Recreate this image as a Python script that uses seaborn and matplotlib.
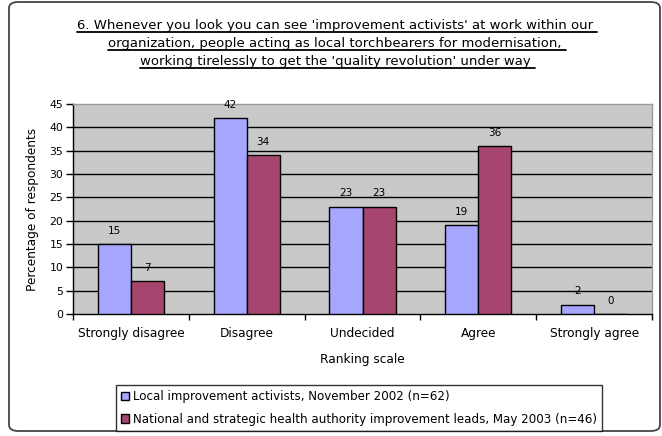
import matplotlib
matplotlib.use("Agg")
import matplotlib.pyplot as plt
from matplotlib.patches import FancyBboxPatch, Patch
from matplotlib.lines import Line2D
import seaborn as sns
import pandas as pd

categories = ["Strongly disagree", "Disagree", "Undecided", "Agree", "Strongly agree"]
series_names = ["Local improvement activists, November 2002 (n=62)",
                "National and strategic health authority improvement leads, May 2003 (n=46)"]
local_vals = [15, 42, 23, 19, 2]
national_vals = [7, 34, 23, 36, 0]
yticks = [0, 5, 10, 15, 20, 25, 30, 35, 40, 45]
title_lines = ["6. Whenever you look you can see 'improvement activists' at work within our ",
               "organization, people acting as local torchbearers for modernisation, ",
               "working tirelessly to get the 'quality revolution' under way "]
colors = ["#A6A6FF", "#A6466F"]

sns.set_theme(style="white")
plt.rcParams["font.family"] = ["DejaVu Sans"]
plt.rcParams["text.color"] = "black"
plt.rcParams["axes.labelcolor"] = "black"
plt.rcParams["xtick.color"] = "black"
plt.rcParams["ytick.color"] = "black"

df = pd.DataFrame({
    "cat": categories * 2,
    "val": local_vals + national_vals,
    "series": [series_names[0]] * 5 + [series_names[1]] * 5,
})

W, H = 662, 436
fig = plt.figure(figsize=(W / 100, H / 100), dpi=100)
fig.patch.set_facecolor("white")

# outer rounded border
border = FancyBboxPatch((9 / W, 5 / H), (660 - 9) / W, (434 - 5) / H,
                        boxstyle="round,pad=0,rounding_size=0.014",
                        transform=fig.transFigure, facecolor="none",
                        edgecolor="#444444", linewidth=1.3)
fig.patches.append(border)

ax = fig.add_axes([73 / W, 1 - 314 / H, (652 - 73) / W, (314 - 104) / H])
ax.set_facecolor("#C9C9C9")

sns.barplot(data=df, x="cat", y="val", hue="series", palette=colors,
            width=0.57, edgecolor="black", linewidth=1.0, ax=ax,
            legend=False, zorder=3, saturation=1)

for c in ax.containers:
    ax.bar_label(c, labels=[f"{v:g}" for v in c.datavalues], padding=6,
                 fontsize=7.5, zorder=4)

ax.set_ylim(0, 45)
ax.set_xlim(-0.5, 4.5)
ax.set_yticks(yticks)
for y in yticks[1:-1]:
    ax.axhline(y, color="black", linewidth=1.0, zorder=1)

for s in ["top", "right"]:
    ax.spines[s].set_color("#9a9a9a")
    ax.spines[s].set_linewidth(1.0)
for s in ["left", "bottom"]:
    ax.spines[s].set_color("black")
    ax.spines[s].set_linewidth(1.0)

ax.tick_params(axis="y", which="major", left=True, length=5, width=1,
               color="black", pad=2, labelsize=7.8)
ax.tick_params(axis="x", which="major", bottom=False, length=0, pad=9,
               labelsize=8.7)
ax.set_xticks([-0.5, 0.5, 1.5, 2.5, 3.5, 4.5], minor=True)
ax.tick_params(axis="x", which="minor", bottom=True, length=4, width=1,
               color="black", direction="out")
ax.set_xticklabels(categories)

ax.set_xlabel("Ranking scale", fontsize=8.7)
ax.set_ylabel("Percentage of respondents", fontsize=8.7)
ax.xaxis.set_label_coords(0.5, -(353 - 314) / 210)
ax.yaxis.set_label_coords(-(73 - 39) / 579, 0.5)

# title with underlines
title_y = [25, 43, 61]
texts = []
for line, yy in zip(title_lines, title_y):
    t = fig.text(337 / W, 1 - yy / H, line, ha="center", va="center",
                 fontsize=9.5)
    texts.append(t)

fig.canvas.draw()
renderer = fig.canvas.get_renderer()
inv = fig.transFigure.inverted()
for t in texts:
    bb = t.get_window_extent(renderer=renderer)
    (x0, y0), (x1, y1) = inv.transform([[bb.x0, bb.y0], [bb.x1, bb.y1]])
    yl = y0 - 0.5 / H
    fig.lines.append(Line2D([x0, x1], [yl, yl], transform=fig.transFigure,
                            color="black", linewidth=1.3))

handles = [Patch(facecolor=colors[i], edgecolor="black", linewidth=1.0,
                 label=series_names[i]) for i in range(2)]
leg = fig.legend(handles=handles, loc="center", bbox_to_anchor=(359 / W, 1 - 408 / H),
                 frameon=True, fancybox=False, fontsize=8.6, handlelength=0.7,
                 handleheight=0.7, handletextpad=0.3, borderpad=0.4,
                 labelspacing=0.8, borderaxespad=0)
leg.get_frame().set_edgecolor("black")
leg.get_frame().set_linewidth(1.0)

fig.savefig("out.png", dpi=100)
